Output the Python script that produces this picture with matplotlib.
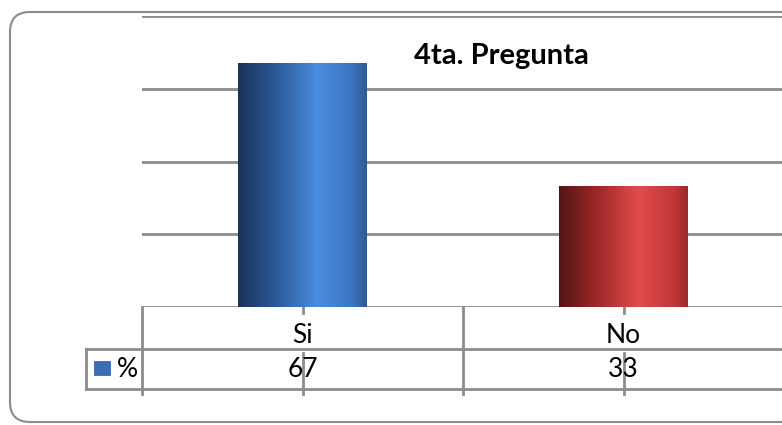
import matplotlib.pyplot as plt
import numpy as np
import matplotlib.transforms as mtransforms
from matplotlib.patches import FancyBboxPatch, Rectangle
from matplotlib.colors import LinearSegmentedColormap

# datos
categorias = ['Si', 'No']
porcentajes = [67, 33]
serie = '%'
titulo = '4ta. Pregunta'

plt.rcParams['font.family'] = ['Lato', 'DejaVu Sans']

W, H = 782, 425
fig = plt.figure(figsize=(W / 100, H / 100), dpi=100)

# marco redondeado (coordenadas en pixeles)
ax_bg = fig.add_axes([0, 0, 1, 1])
ax_bg.set_xlim(0, W)
ax_bg.set_ylim(H, 0)
ax_bg.axis('off')
ax_bg.add_patch(FancyBboxPatch((10, 12), 792, 410, boxstyle='round,pad=0,rounding_size=20',
                               fc='none', ec='#8c8c8c', lw=1.5))

# area del grafico
left, right, top, bottom = 142, 784, 16, 307
ax = fig.add_axes([left / W, 1 - bottom / H, (right - left) / W, (bottom - top) / H])
x = np.arange(len(categorias))

azul = LinearSegmentedColormap.from_list('azul', [(0, '#1a3358'), (0.3, '#2c5a98'), (0.62, '#4a8ee0'),
                                                  (0.9, '#3a72bc'), (1, '#2e5a94')])
rojo = LinearSegmentedColormap.from_list('rojo', [(0, '#521515'), (0.3, '#a02828'), (0.62, '#e24c4c'),
                                                  (0.9, '#c03636'), (1, '#9a2a2a')])

bars = ax.bar(x, porcentajes, width=0.4, color='none', zorder=3)
grad = np.linspace(0, 1, 256).reshape(1, -1)
for b, cmap in zip(bars, [azul, rojo]):
    x0, w, h = b.get_x(), b.get_width(), b.get_height()
    ax.imshow(grad, extent=[x0, x0 + w, 0, h], cmap=cmap, aspect='auto', zorder=3)

ax.set_xlim(-0.5, len(categorias) - 0.5)
ax.set_ylim(0, 80)
ax.set_yticks([0, 20, 40, 60, 80])
ax.yaxis.grid(True, color='#8c8c8c', lw=2)
ax.set_axisbelow(True)
ax.tick_params(left=False, bottom=False, labelleft=False, labelbottom=False)
for s in ax.spines.values():
    s.set_visible(False)

# tabla de datos
trans = mtransforms.blended_transform_factory(ax.transData, ax.transAxes)
px = 1 / (bottom - top)  # un pixel en fraccion del eje
col = 1 / (right - left) * len(categorias)  # un pixel en unidades de datos
y_fila1 = -42 * px
y_fila2 = -82 * px
x_leyenda = -0.5 - 56 * col
kw = dict(transform=trans, clip_on=False, color='#8c8c8c', lw=2)

ax.plot([x_leyenda, len(categorias) - 0.5], [y_fila1, y_fila1], **kw)
ax.plot([x_leyenda, len(categorias) - 0.5], [y_fila2, y_fila2], **kw)
ax.plot([x_leyenda, x_leyenda], [y_fila1, y_fila2], **kw)
for xb in np.arange(len(categorias) + 1) - 0.5:
    ax.plot([xb, xb], [0, y_fila2 - 5 * px], **kw)
for xi in x:
    ax.plot([xi, xi], [6 * px, -6 * px], **kw)
    ax.plot([xi, xi], [-46 * px, y_fila2 - 5 * px], **kw)

for xi, cat, val in zip(x, categorias, porcentajes):
    ax.text(xi, -36 * px, cat, transform=trans, ha='center', va='baseline', fontsize=19)
    ax.text(xi, -70 * px, str(val), transform=trans, ha='center', va='baseline', fontsize=19)

ax.add_patch(Rectangle((-0.5 - 48 * col, -68 * px), 16 * col, 14 * px, transform=trans,
                       clip_on=False, fc='#3a6db5', ec='#2c5a98', lw=0.5))
ax.text(-0.5 - 25 * col, -70 * px, serie, transform=trans, ha='left', va='baseline', fontsize=19)

fig.text(501 / W, 1 - 64 / H, titulo, ha='center', va='baseline', fontsize=21, fontweight='bold')

plt.savefig('out.png', dpi=100)
